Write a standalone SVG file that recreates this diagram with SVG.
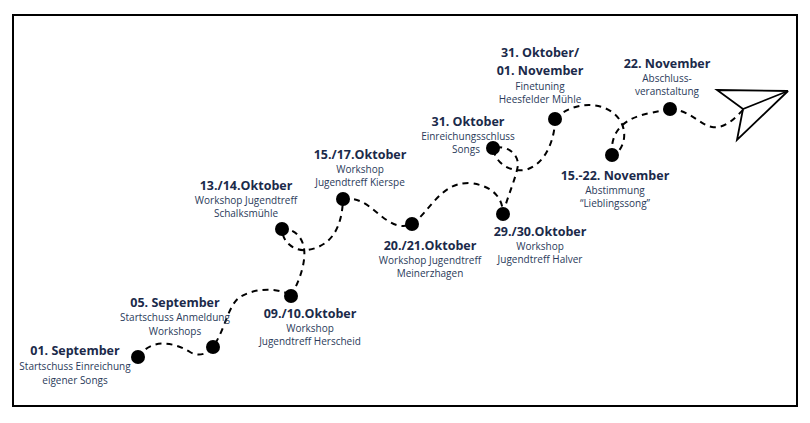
<svg xmlns="http://www.w3.org/2000/svg" width="810" height="423" viewBox="0 0 810 423">
<style>
.t{font-family:"Open Sans","Noto Sans",sans-serif;font-weight:700;font-size:12.5px;fill:#1b2a4a;text-anchor:middle}
.b{font-family:"Open Sans","Noto Sans",sans-serif;font-size:10px;fill:#2a3a5a;text-anchor:middle}
.d{fill:#000}
.c{fill:none;stroke:#000;stroke-width:2;stroke-dasharray:6 5}
</style>
<rect width="810" height="423" fill="#fff"/>
<rect x="13" y="15" width="784" height="391" fill="none" stroke="#000" stroke-width="2"/>
<g id="connectors">
<path class="c" d="M138,357 C150,340 170,340 190,352 C200,358 210,352 213,347 C225,330 228,305 240,297 C260,285 285,290 291,296"/>
<path class="c" d="M291,296 C300,280 306,262 304,248 C302,236 293,228 282,229 C282,240 292,252 308,250 C330,246 342,230 343,199"/>
<path class="c" d="M343,199 C365,196 375,214 390,222 C400,228 408,226 412,224 C430,212 440,182 470,183 C495,186 503,200 503,214"/>
<path class="c" d="M503,214 C508,195 516,178 518,165 C518,152 505,145 493,148 C495,160 505,172 525,170 C545,165 555,140 555,119"/>
<path class="c" d="M555,119 C570,104 595,100 612,112 C626,122 628,140 618,152"/>
<path class="c" d="M612,155 C610,130 625,118 650,113 C660,111 665,110 670,109"/>
<path class="c" d="M670,109 C690,110 700,125 712,127 C725,129 735,118 743,110"/>
</g>
<g id="plane" fill="none" stroke="#000" stroke-width="1.8">
<path d="M717,90 L788,91 L743,109 Z"/>
<path d="M743,109 L737,140 L788,91"/>
</g>
<g id="n1"><circle class="d" cx="138" cy="357" r="7"/><text class="t" x="75" y="355">01. September</text><text class="b" x="75" y="370">Startschuss Einreichung</text><text class="b" x="75" y="384">eigener Songs</text></g>
<g id="n2"><circle class="d" cx="213" cy="347" r="7"/><text class="t" x="175" y="307">05. September</text><text class="b" x="175" y="321">Startschuss Anmeldung</text><text class="b" x="175" y="335">Workshops</text></g>
<g id="n3"><circle class="d" cx="291" cy="296" r="7"/><text class="t" x="310" y="318">09./10.Oktober</text><text class="b" x="310" y="332">Workshop</text><text class="b" x="310" y="345">Jugendtreff Herscheid</text></g>
<g id="n4"><circle class="d" cx="282" cy="229" r="7"/><text class="t" x="246" y="190">13./14.Oktober</text><text class="b" x="246" y="204">Workshop Jugendtreff</text><text class="b" x="246" y="217">Schalksmühle</text></g>
<g id="n5"><circle class="d" cx="343" cy="199" r="7"/><text class="t" x="360" y="159">15./17.Oktober</text><text class="b" x="360" y="173">Workshop</text><text class="b" x="360" y="186">Jugendtreff Kierspe</text></g>
<g id="n6"><circle class="d" cx="412" cy="224" r="7"/><text class="t" x="430" y="250">20./21.Oktober</text><text class="b" x="430" y="264">Workshop Jugendtreff</text><text class="b" x="430" y="277">Meinerzhagen</text></g>
<g id="n7"><circle class="d" cx="503" cy="214" r="7"/><text class="t" x="540" y="236">29./30.Oktober</text><text class="b" x="540" y="250">Workshop</text><text class="b" x="540" y="263">Jugendtreff Halver</text></g>
<g id="n8"><circle class="d" cx="493" cy="148" r="7"/><text class="t" x="468" y="126">31. Oktober</text><text class="b" x="468" y="140">Einreichungsschluss</text><text class="b" x="466" y="153">Songs</text></g>
<g id="n9"><circle class="d" cx="555" cy="119" r="7"/><text class="t" x="540" y="57">31. Oktober/</text><text class="t" x="540" y="75">01. November</text><text class="b" x="540" y="90">Finetuning</text><text class="b" x="540" y="103">Heesfelder Mühle</text></g>
<g id="n10"><circle class="d" cx="612" cy="155" r="7"/><text class="t" x="615" y="180">15.-22. November</text><text class="b" x="615" y="194">Abstimmung</text><text class="b" x="615" y="207">“Lieblingssong”</text></g>
<g id="n11"><circle class="d" cx="670" cy="109" r="7"/><text class="t" x="667" y="68">22. November</text><text class="b" x="667" y="82">Abschluss-</text><text class="b" x="667" y="95">veranstaltung</text></g>
</svg>
